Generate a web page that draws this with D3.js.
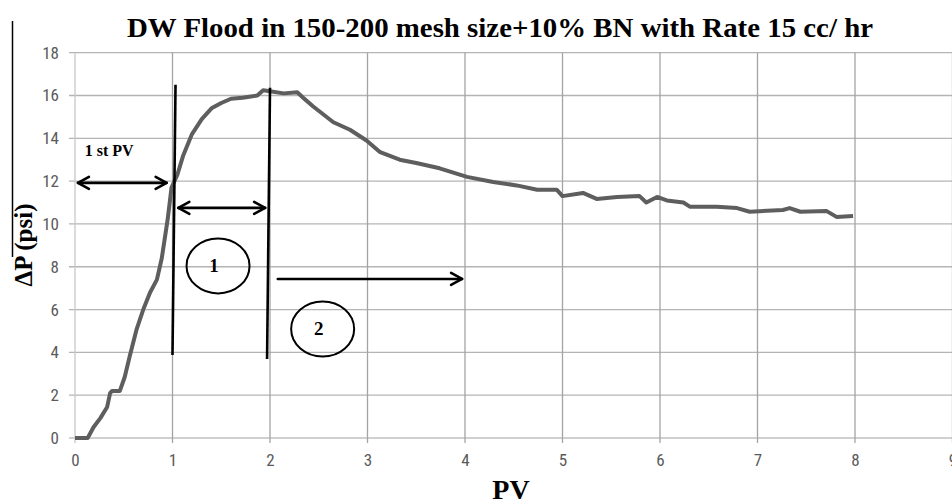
<!DOCTYPE html>
<html>
<head>
<meta charset="utf-8">
<script src="https://cdn.jsdelivr.net/npm/d3@7"></script>
<style>
  body { margin: 0; background: #fff; }
  svg { display: block; }
  .tick text { font-family: "Liberation Sans Narrow", "Roboto Condensed", "DejaVu Sans Condensed", Roboto, sans-serif; }
</style>
</head>
<body>
<figure id="chart" style="margin:0"></figure>
<script>
// measured values (PV, delta P in psi)
const pvValues = [0, 0.13, 0.19, 0.26, 0.33, 0.36, 0.38, 0.46, 0.51, 0.56, 0.63, 0.70, 0.77, 0.84, 0.89,
  0.95, 0.99, 1.05, 1.11, 1.20, 1.30, 1.40, 1.50, 1.60, 1.72, 1.87, 1.93, 2.00, 2.14, 2.28, 2.34, 2.44,
  2.65, 2.82, 2.99, 3.13, 3.33, 3.50, 3.74, 4.02, 4.29, 4.53, 4.74, 4.94, 5.00, 5.21, 5.35, 5.56, 5.79,
  5.86, 5.97, 6.07, 6.24, 6.31, 6.58, 6.79, 6.92, 7.26, 7.33, 7.44, 7.71, 7.81, 7.98];
const dpValues = [0, 0, 0.5, 0.93, 1.45, 2.1, 2.2, 2.2, 2.85, 3.8, 5.05, 6.0, 6.8, 7.4, 8.4,
  10.2, 11.7, 12.3, 13.2, 14.2, 14.9, 15.4, 15.65, 15.85, 15.9, 16.0, 16.25, 16.2, 16.1, 16.15, 15.9, 15.5,
  14.75, 14.4, 13.9, 13.35, 13.0, 12.85, 12.6, 12.2, 11.96, 11.8, 11.6, 11.6, 11.3, 11.45, 11.17, 11.26, 11.3,
  11.0, 11.26, 11.1, 11.0, 10.8, 10.8, 10.74, 10.57, 10.65, 10.74, 10.57, 10.6, 10.33, 10.37];

const xTicks = [0, 1, 2, 3, 4, 5, 6, 7, 8, 9];
const yTicks = [0, 2, 4, 6, 8, 10, 12, 14, 16, 18];

const titleText = "DW Flood in 150-200 mesh size+10% BN with Rate 15 cc/ hr";
const xLabel = "PV";
const yLabel = "\u0394P (psi)";

// hand drawn annotations, in data units
const markerLines = [[1.031, 16.5, 1.0, 3.88], [2.0, 16.36, 1.97, 3.69]];
const arrows = [[0.03, 0.94, 11.92, true], [1.06, 1.95, 10.75, true], [2.08, 3.97, 7.43, false]];
const zones = [["1", 1.467, 8.04], ["2", 2.54, 5.09]];
const noteText = ["1 st PV", 0.1, 13.18];

const width = 952, height = 504;
const x = d3.scaleLinear().domain([0, 9]).range([75, 952.5]);
const y = d3.scaleLinear().domain([0, 18]).range([438, 52.7]);

const svg = d3.select("#chart").append("svg")
  .attr("width", width).attr("height", height);

// grid
svg.append("g").selectAll("line").data(yTicks).join("line")
  .attr("x1", 69).attr("x2", width)
  .attr("y1", d => y(d)).attr("y2", d => y(d))
  .attr("stroke", d => d === 0 ? "#d0d0d0" : "#b4b4b4")
  .attr("stroke-width", d => d === 0 ? 2 : 1.3);

svg.append("g").selectAll("line").data(xTicks).join("line")
  .attr("x1", d => x(d)).attr("x2", d => x(d))
  .attr("y1", y(18)).attr("y2", y(0) + 5)
  .attr("stroke", d => d === 0 ? "#c8c8c8" : "#a4a4a4")
  .attr("stroke-width", 1.3);

// axes labels
const yAxis = svg.append("g")
  .attr("transform", "translate(75,0)")
  .call(d3.axisLeft(y).tickValues(yTicks).tickSize(0).tickPadding(16));
yAxis.select(".domain").remove();
yAxis.selectAll(".tick text").attr("font-size", 17).attr("fill", "#5a5a5a");

const xAxis = svg.append("g")
  .attr("transform", "translate(0," + y(0) + ")")
  .call(d3.axisBottom(x).tickValues(xTicks).tickSize(0).tickPadding(16));
xAxis.select(".domain").remove();
xAxis.selectAll(".tick text").attr("font-size", 17).attr("fill", "#5a5a5a");

// data curve
const pts = pvValues.map((v, i) => [v, dpValues[i]]);
svg.append("path")
  .datum(pts)
  .attr("fill", "none")
  .attr("stroke", "#5e5e5e")
  .attr("stroke-width", 4)
  .attr("stroke-linejoin", "round")
  .attr("d", d3.line().x(d => x(d[0])).y(d => y(d[1])));

// annotations
svg.append("g").selectAll("line").data(markerLines).join("line")
  .attr("x1", d => x(d[0])).attr("y1", d => y(d[1]))
  .attr("x2", d => x(d[2])).attr("y2", d => y(d[3]))
  .attr("stroke", "#000").attr("stroke-width", 2.6);

const ag = svg.append("g").attr("stroke", "#000").attr("stroke-width", 2.6)
  .attr("fill", "none").attr("stroke-linecap", "round").attr("stroke-linejoin", "round");
arrows.forEach(a => {
  const x1 = x(a[0]), x2 = x(a[1]), yy = y(a[2]);
  ag.append("line").attr("x1", x1).attr("x2", x2).attr("y1", yy).attr("y2", yy);
  ag.append("polyline").attr("points", [[x2 - 11, yy - 6], [x2, yy], [x2 - 11, yy + 6]].join(" "));
  if (a[3]) {
    ag.append("polyline").attr("points", [[x1 + 11, yy - 6], [x1, yy], [x1 + 11, yy + 6]].join(" "));
  }
});

const zg = svg.append("g").selectAll("g").data(zones).join("g")
  .attr("transform", d => "translate(" + x(d[1]) + "," + y(d[2]) + ")");
zg.append("ellipse").attr("rx", 31.5).attr("ry", 27.5)
  .attr("fill", "none").attr("stroke", "#000").attr("stroke-width", 2);
zg.append("text").text(d => d[0])
  .attr("x", -4).attr("y", 6).attr("text-anchor", "middle")
  .attr("font-family", "Liberation Serif, serif").attr("font-weight", "bold")
  .attr("font-size", 19);

svg.append("text").text(noteText[0])
  .attr("x", x(noteText[1])).attr("y", y(noteText[2]))
  .attr("font-family", "Liberation Serif, serif").attr("font-weight", "bold")
  .attr("font-size", 16);

// titles
svg.append("text").text(titleText)
  .attr("x", 500).attr("y", 37).attr("text-anchor", "middle")
  .attr("font-family", "Liberation Serif, serif").attr("font-weight", "bold")
  .attr("font-size", 28).attr("textLength", 746).attr("lengthAdjust", "spacingAndGlyphs");

svg.append("text").text(xLabel)
  .attr("x", 511).attr("y", 499).attr("text-anchor", "middle")
  .attr("font-family", "Liberation Serif, serif").attr("font-weight", "bold")
  .attr("font-size", 28);

svg.append("text").text(yLabel)
  .attr("transform", "translate(32,245) rotate(-90)")
  .attr("text-anchor", "middle")
  .attr("font-family", "Liberation Serif, serif").attr("font-weight", "bold")
  .attr("font-size", 25);

// left frame edge of the cropped figure
svg.append("line").attr("x1", 12.5).attr("x2", 12.5).attr("y1", 21).attr("y2", 257)
  .attr("stroke", "#000").attr("stroke-width", 1.5);
</script>
</body>
</html>
